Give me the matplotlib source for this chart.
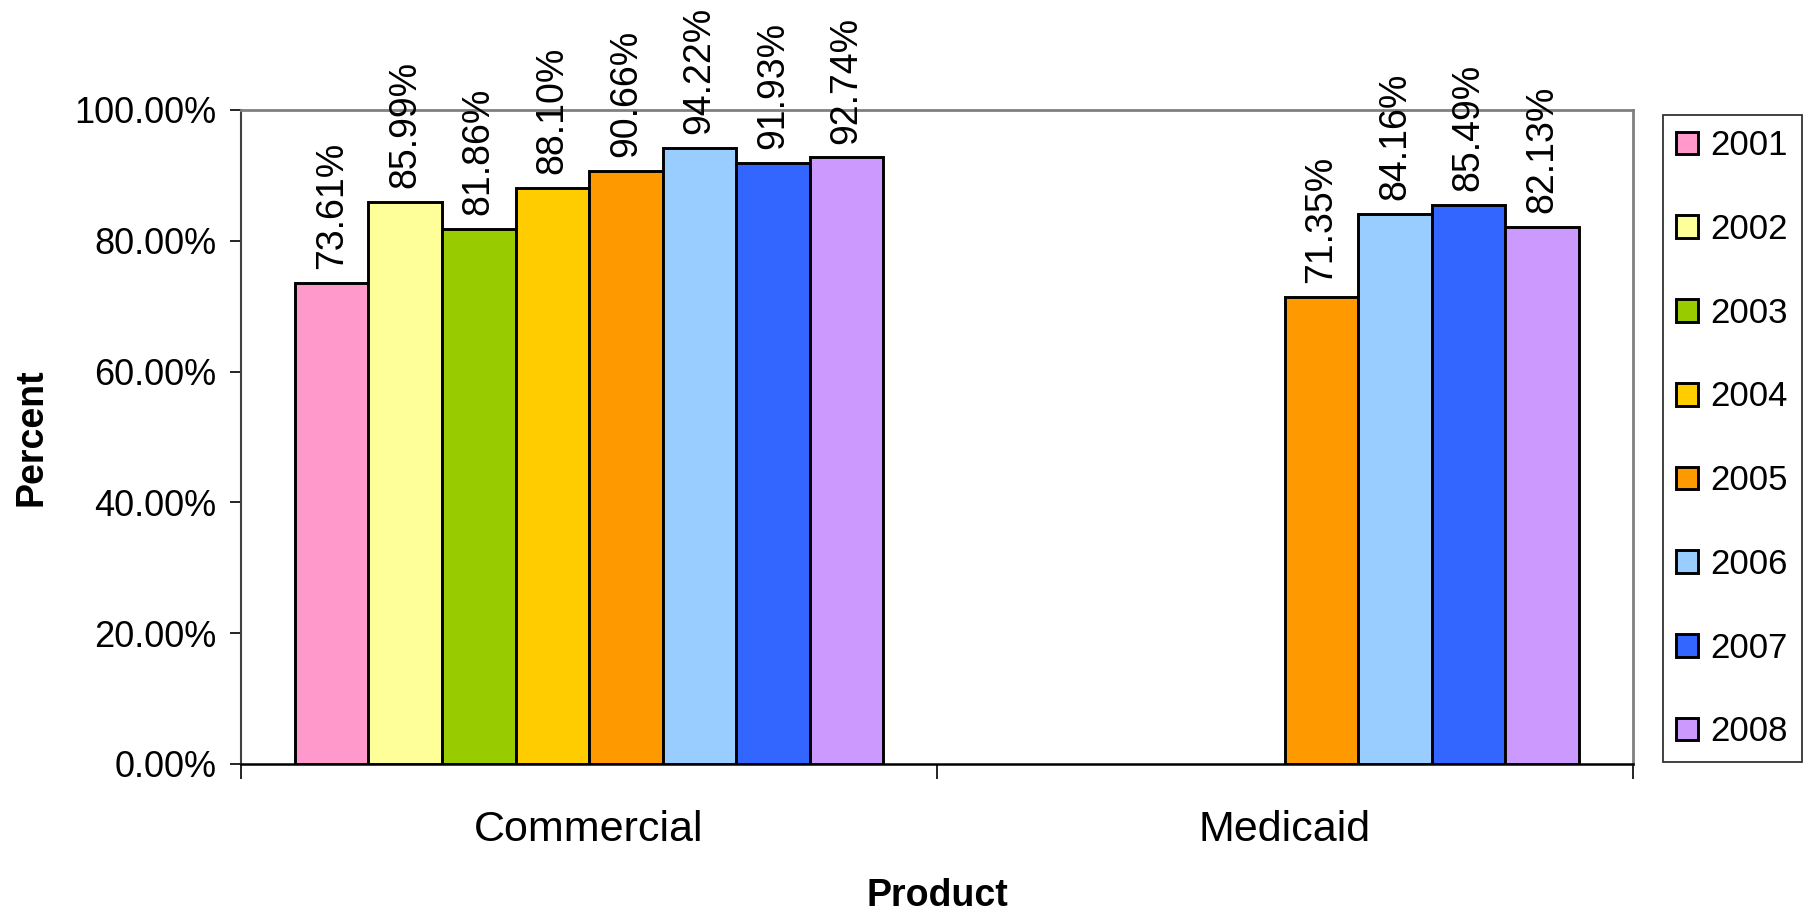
import numpy as np
import matplotlib
matplotlib.use('Agg')
import matplotlib.pyplot as plt
from matplotlib import rcParams
import matplotlib.ticker as ticker

rcParams['font.family'] = ['Liberation Sans', 'DejaVu Sans']

categories = ['Commercial', 'Medicaid']
years = ['2001', '2002', '2003', '2004', '2005', '2006', '2007', '2008']
commercial = [73.61, 85.99, 81.86, 88.10, 90.66, 94.22, 91.93, 92.74]
medicaid = [np.nan, np.nan, np.nan, np.nan, 71.35, 84.16, 85.49, 82.13]
colors = ['#FF99CC', '#FFFF99', '#99CC00', '#FFCC00',
          '#FF9900', '#99CCFF', '#3366FF', '#CC99FF']

vals = np.array([commercial, medicaid])  # shape (cat, year)

fig = plt.figure(figsize=(18.14, 9.16), dpi=100)
ax = fig.add_axes([0.133, 0.166, 0.767, 0.714])

w = 0.1057
xc = np.arange(len(categories))
for i, yr in enumerate(years):
    h = vals[:, i]
    ok = ~np.isnan(h)
    xs = xc[ok] + (i - 3.5) * w
    ax.bar(xs, h[ok], width=w, color=colors[i], edgecolor='black',
           linewidth=2.1, label=yr, zorder=3)
    for x, v in zip(xs, h[ok]):
        ax.annotate('%.2f%%' % v, (x, v), xytext=(0, 10), textcoords='offset points',
                    rotation=90, ha='center', va='bottom', fontsize=27)

ax.set_xlim(-0.5, 1.5)
ax.set_ylim(0, 100)
ax.yaxis.set_major_locator(ticker.MultipleLocator(20))
ax.yaxis.set_major_formatter(ticker.FuncFormatter(lambda v, p: '%.2f%%' % v))
ax.tick_params(axis='y', labelsize=26, length=8, width=1.2, pad=10, direction='out')

# category labels centred, ticks on boundaries
ax.set_xticks([-0.5, 0.5, 1.5])
ax.set_xticklabels([])
ax.set_xticks(xc, minor=True)
ax.set_xticklabels(categories, minor=True, fontsize=31)
ax.tick_params(axis='x', which='major', length=11, width=1.2, direction='out')
ax.tick_params(axis='x', which='minor', length=0, pad=33)

for s in ['top', 'right']:
    ax.spines[s].set_color('#808080')
    ax.spines[s].set_linewidth(2)
ax.spines['left'].set_color('#404040')
ax.spines['left'].set_linewidth(1.5)
ax.spines['bottom'].set_color('black')
ax.spines['bottom'].set_linewidth(1.8)

ax.set_ylabel('Percent', fontsize=27, fontweight='bold', labelpad=18)
ax.set_xlabel('Product', fontsize=27, fontweight='bold', labelpad=20)

leg = ax.legend(loc='center left', bbox_to_anchor=(0.9165, 0.521),
                bbox_transform=fig.transFigure, fontsize=25, frameon=True,
                fancybox=False, edgecolor='black', handlelength=0.63,
                handleheight=0.63, handletextpad=0.35, labelspacing=1.46,
                borderpad=0.4, borderaxespad=0)
leg.get_frame().set_linewidth(1.3)

plt.savefig('out.png', dpi=100)
